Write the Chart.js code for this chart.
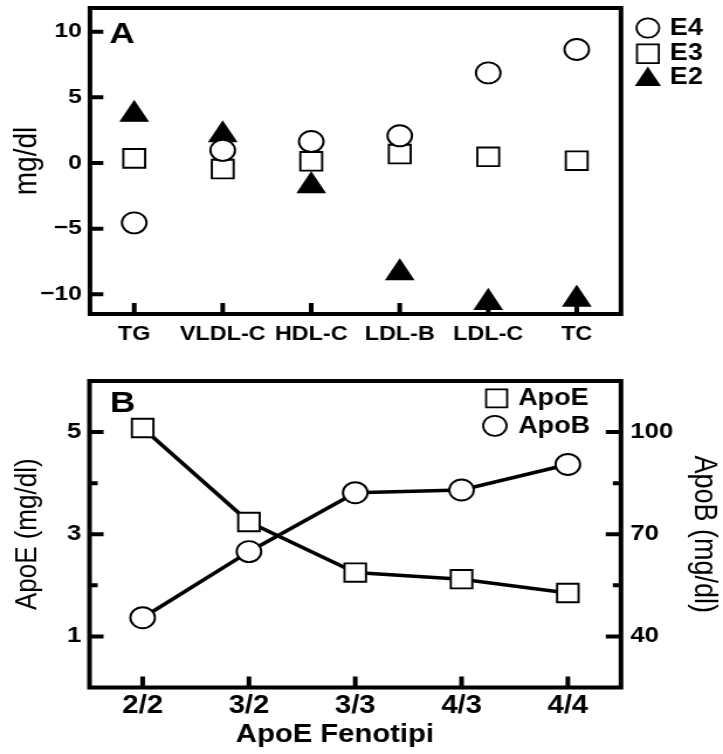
<!DOCTYPE html>
<html><head><meta charset="utf-8">
<script src="https://cdn.jsdelivr.net/npm/chart.js@4.4.1/dist/chart.umd.min.js"></script>
<style>
html,body{margin:0;padding:0;background:#fff;width:723px;height:754px;overflow:hidden;}
canvas{position:absolute;left:0;}
</style></head><body>
<canvas id="cA" width="618" height="360" style="position:absolute;left:0;top:0;width:723px;height:360px;"></canvas>
<canvas id="cB" width="618" height="394" style="position:absolute;left:0;top:360px;width:723px;height:394px;"></canvas>
<script>
// ---- Panel A data ----
const CATEGORIES_A = ['TG', 'VLDL-C', 'HDL-C', 'LDL-B', 'LDL-C', 'TC'];
const E4_VALUES = [-4.56, 0.96, 1.63, 2.07, 6.86, 8.64];
const E3_VALUES = [0.35, -0.46, 0.13, 0.68, 0.47, 0.17];
const E2_VALUES = [3.69, 2.13, -1.74, -8.37, -10.63, -10.38];
const Y_TICKS_A = [-10, -5, 0, 5, 10];

// ---- Panel B data ----
const GENOTYPES_B = ['2/2', '3/2', '3/3', '4/3', '4/4'];
const APOE_VALUES = [5.08, 3.24, 2.25, 2.12, 1.85];
const APOB_VALUES = [45.5, 64.9, 82.2, 83.0, 90.5];
const APOE_TICKS = [1, 3, 5];
const APOE_MINOR_TICKS = [2, 4];
const APOB_TICKS = [40, 70, 100];
const APOB_MINOR_TICKS = [55, 85];

const INK = '#000';
const FAMILY = '"Liberation Sans", Arial, Helvetica, sans-serif';
Chart.defaults.font.family = FAMILY;
Chart.defaults.color = INK;

function drawMarker(ctx, style, x, y, r, fill, lw) {
  ctx.save();
  ctx.fillStyle = fill; ctx.strokeStyle = INK; ctx.lineWidth = lw;
  ctx.beginPath();
  if (style === 'circle') {
    ctx.arc(x, y, r, 0, Math.PI * 2);
  } else if (style === 'rect') {
    const s = r * Math.SQRT1_2;
    ctx.rect(x - s, y - s, 2 * s, 2 * s);
  } else if (style === 'triangle') {
    let a = 0;
    ctx.moveTo(x + Math.sin(a) * r, y - Math.cos(a) * r);
    a += 2 * Math.PI / 3;
    ctx.lineTo(x + Math.sin(a) * r, y - Math.cos(a) * r);
    a += 2 * Math.PI / 3;
    ctx.lineTo(x + Math.sin(a) * r, y - Math.cos(a) * r);
    ctx.closePath();
  }
  ctx.fill(); ctx.stroke();
  ctx.restore();
}

function inwardTicks(ctx, scale, values, len, lw) {
  const ca = scale.chart.chartArea;
  ctx.save();
  ctx.strokeStyle = INK; ctx.lineWidth = lw; ctx.lineCap = 'butt';
  ctx.beginPath();
  values.forEach(v => {
    if (scale.isHorizontal()) {
      const x = scale.getPixelForValue(v);
      ctx.moveTo(x, ca.bottom); ctx.lineTo(x, ca.bottom - len);
    } else {
      const y = scale.getPixelForValue(v);
      if (scale.position === 'left') { ctx.moveTo(ca.left, y); ctx.lineTo(ca.left + len, y); }
      else { ctx.moveTo(ca.right, y); ctx.lineTo(ca.right - len, y); }
    }
  });
  ctx.stroke();
  ctx.restore();
}

function drawFrame(ctx, ca) {
  ctx.save();
  ctx.strokeStyle = INK; ctx.lineWidth = 4;
  ctx.strokeRect(ca.left, ca.top, ca.right - ca.left, ca.bottom - ca.top);
  ctx.restore();
}

const minusFmt = v => (v < 0 ? '\u2212' + Math.abs(v) : String(v));

// ================= Panel A =================
const framePluginA = {
  id: 'frameA',
  beforeDatasetsDraw(chart) {
    const ctx = chart.ctx;
    drawFrame(ctx, chart.chartArea);
    inwardTicks(ctx, chart.scales.y, Y_TICKS_A, 11.4, 4);
    inwardTicks(ctx, chart.scales.x, CATEGORIES_A.map((c, i) => i), 11, 4);
  },
  afterDraw(chart) {
    const ctx = chart.ctx;
    ctx.save();
    ctx.fillStyle = INK;
    ctx.font = 'bold 30px ' + FAMILY;
    ctx.textAlign = 'left'; ctx.textBaseline = 'alphabetic';
    ctx.fillText('A', 93.4, 43);
    // legend
    const ys = [28, 53.8, 79.5];
    const radii = [9.7, 13.2, 11.1];
    const tys = [29, 54, 77.5];
    ctx.font = 'bold 23px ' + FAMILY;
    ctx.textBaseline = 'middle';
    chart.data.datasets.forEach((ds, i) => {
      drawMarker(ctx, ds.pointStyle, 553.8, ys[i], radii[i], ds.pointBackgroundColor, 1.8);
      ctx.fillStyle = INK;
      ctx.fillText(ds.label, 572.6, tys[i]);
    });
    ctx.restore();
  }
};

new Chart(document.getElementById('cA'), {
  type: 'line',
  data: {
    labels: CATEGORIES_A,
    datasets: [
      { label: 'E4', data: E4_VALUES, showLine: false, pointStyle: 'circle', pointRadius: 10.5,
        pointBackgroundColor: '#fff', pointBorderColor: INK, pointBorderWidth: 1.9, clip: false },
      { label: 'E3', data: E3_VALUES, showLine: false, pointStyle: 'rect', pointRadius: 13.2,
        pointBackgroundColor: '#fff', pointBorderColor: INK, pointBorderWidth: 1.9, clip: false },
      { label: 'E2', data: E2_VALUES, showLine: false, pointStyle: 'triangle', pointRadius: 13.5,
        pointBackgroundColor: INK, pointBorderColor: INK, pointBorderWidth: 1.2, clip: false }
    ]
  },
  options: {
    responsive: false, animation: false, devicePixelRatio: 1, events: [],
    layout: { padding: { top: 8, right: 87.2, left: 0, bottom: 0 }, autoPadding: false },
    plugins: { legend: { display: false }, tooltip: { enabled: false } },
    scales: {
      x: {
        type: 'category', offset: true,
        grid: { display: false, drawTicks: false }, border: { display: false },
        ticks: { font: { size: 20, weight: 'bold' }, color: INK, padding: 8, maxRotation: 0, autoSkip: false },
        afterFit(s) { s.height = 46; s.paddingLeft = 0; s.paddingRight = 0; }
      },
      y: {
        min: -11.5, max: 11.8,
        grid: { display: false, drawTicks: false }, border: { display: false },
        afterBuildTicks(s) { s.ticks = Y_TICKS_A.map(v => ({ value: v })); },
        ticks: { font: { size: 21, weight: 'bold' }, color: INK, padding: 7, callback: minusFmt },
        title: { display: true, text: 'mg/dl', font: { size: 28 }, color: INK, padding: { top: 6, bottom: 0 } },
        afterFit(s) { s.width = 76.9; s.paddingTop = 0; s.paddingBottom = 0; }
      }
    }
  },
  plugins: [framePluginA]
});

// ================= Panel B =================
const framePluginB = {
  id: 'frameB',
  beforeDatasetsDraw(chart) {
    const ctx = chart.ctx;
    drawFrame(ctx, chart.chartArea);
    inwardTicks(ctx, chart.scales.yE, APOE_TICKS, 12, 4);
    inwardTicks(ctx, chart.scales.yE, APOE_MINOR_TICKS, 7, 4);
    inwardTicks(ctx, chart.scales.yB, APOB_TICKS, 13, 4);
    inwardTicks(ctx, chart.scales.yB, APOB_MINOR_TICKS, 7, 4);
    inwardTicks(ctx, chart.scales.x, GENOTYPES_B.map((c, i) => i), 11, 4);
  },
  afterDraw(chart) {
    const ctx = chart.ctx;
    ctx.save();
    ctx.fillStyle = INK;
    ctx.font = 'bold 30px ' + FAMILY;
    ctx.textAlign = 'left'; ctx.textBaseline = 'alphabetic';
    ctx.fillText('B', 94, 52);
    // legend
    const mx = [424.5, 423];
    const ys = [38.3, 65.8];
    const radii = [12.7, 10];
    const tys = [38.5, 66.5];
    ctx.font = 'bold 23px ' + FAMILY;
    ctx.textBaseline = 'middle';
    chart.data.datasets.forEach((ds, i) => {
      drawMarker(ctx, ds.pointStyle, mx[i], ys[i], radii[i], '#fff', 1.8);
      ctx.fillStyle = INK;
      ctx.fillText(ds.label, 443, tys[i]);
    });
    // x-axis title
    ctx.font = 'bold 25px ' + FAMILY;
    ctx.textAlign = 'center';
    ctx.fillText('ApoE Fenotipi', 286.3, 375);
    ctx.restore();
  }
};

new Chart(document.getElementById('cB'), {
  type: 'line',
  data: {
    labels: GENOTYPES_B,
    datasets: [
      { label: 'ApoE', data: APOE_VALUES, yAxisID: 'yE', borderColor: INK, borderWidth: 3.6, tension: 0,
        pointStyle: 'rect', pointRadius: 13, pointBackgroundColor: '#fff', pointBorderColor: INK,
        pointBorderWidth: 1.9, clip: false },
      { label: 'ApoB', data: APOB_VALUES, yAxisID: 'yB', borderColor: INK, borderWidth: 3.6, tension: 0,
        pointStyle: 'circle', pointRadius: 10.5, pointBackgroundColor: '#fff', pointBorderColor: INK,
        pointBorderWidth: 1.9, clip: false }
    ]
  },
  options: {
    responsive: false, animation: false, devicePixelRatio: 1, events: [],
    layout: { padding: { top: 21, right: 0, left: 0, bottom: 0 }, autoPadding: false },
    plugins: { legend: { display: false }, tooltip: { enabled: false } },
    scales: {
      x: {
        type: 'category', offset: true,
        grid: { display: false, drawTicks: false }, border: { display: false },
        ticks: { font: { size: 25, weight: 'bold' }, color: INK, padding: 3.5, maxRotation: 0, autoSkip: false },
        afterFit(s) { s.height = 66.5; s.paddingLeft = 0; s.paddingRight = 0; }
      },
      yE: {
        position: 'left', min: 0, max: 6,
        grid: { display: false, drawTicks: false }, border: { display: false },
        afterBuildTicks(s) { s.ticks = APOE_TICKS.map(v => ({ value: v })); },
        ticks: { font: { size: 22, weight: 'bold' }, color: INK, padding: 7 },
        title: { display: true, text: 'ApoE (mg/dl)', font: { size: 26 }, color: INK, padding: { top: 8, bottom: 0 } },
        afterFit(s) { s.width = 76.5; s.paddingTop = 0; s.paddingBottom = 0; }
      },
      yB: {
        position: 'right', min: 25, max: 115,
        grid: { display: false, drawTicks: false }, border: { display: false },
        afterBuildTicks(s) { s.ticks = APOB_TICKS.map(v => ({ value: v })); },
        ticks: { font: { size: 22, weight: 'bold' }, color: INK, padding: 8 },
        title: { display: true, text: 'ApoB (mg/dl)', font: { size: 27 }, color: INK, padding: { top: 0, bottom: 0 } },
        afterFit(s) { s.width = 87.2; s.paddingTop = 0; s.paddingBottom = 0; }
      }
    }
  },
  plugins: [framePluginB]
});
</script>
</body></html>
